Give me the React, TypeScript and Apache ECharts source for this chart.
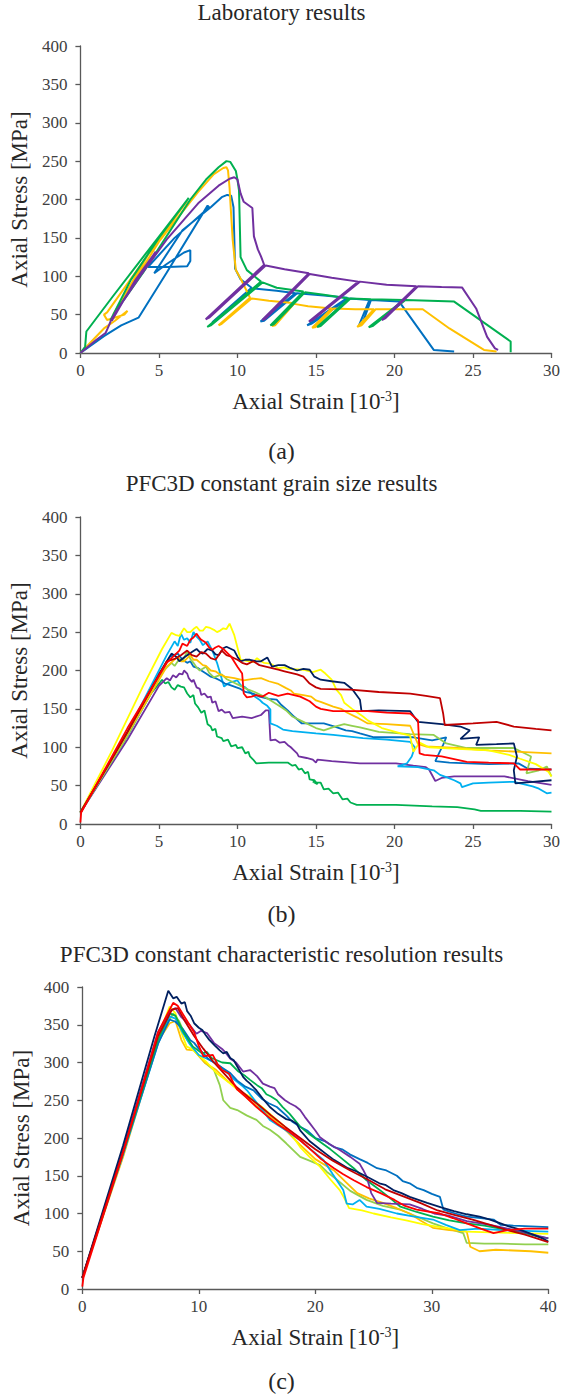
import React, { useEffect, useRef } from "react";
import * as echarts from "echarts";

const FONT = '"Liberation Serif", "Times New Roman", serif';
const AXIS_COLOR = "#595959";
const TEXT_COLOR = "#262626";

// ---------- Titles ----------
const panelTitles = [
  "Laboratory results",
  "PFC3D constant grain size results",
  "PFC3D constant characteristic resolution results",
];
const panelLabels = ["(a)", "(b)", "(c)"];

// ---------- Axes ----------
const yTicks = [0, 50, 100, 150, 200, 250, 300, 350, 400];
const xMaxA = 30;
const xMaxB = 30;
const xMaxC = 40;

// ---------- Colours ----------
const C_NAVY = "#002060";
const C_BLUE = "#0070C0";
const C_LBLUE = "#00B0F0";
const C_GREEN = "#00B050";
const C_LGREEN = "#92D050";
const C_YELLOW = "#FFFF00";
const C_ORANGE = "#FFC000";
const C_RED = "#FF0000";
const C_DRED = "#C00000";
const C_PURPLE = "#7030A0";

// ---------- (a) Laboratory results: [strain, stress] ----------
const labBlue = [
  [0, 0], [1.5, 22], [2.6, 36], [3.7, 46], [5.5, 105], [8.1, 192], [8.2, 190], [6.0, 150],
  [4.3, 112], [5.6, 112], [6.8, 113], [7.0, 120], [7.0, 134], [6.6, 131], [5.5, 116], [4.7, 104],
  [6.5, 160], [8.3, 190], [9.0, 203], [9.35, 206], [9.6, 205], [9.75, 190], [9.8, 150], [9.85, 110],
  [10.2, 96], [10.9, 85], [8.4, 40], [8.6, 42], [11.0, 84], [12.5, 81], [13.7, 78], [11.47, 41],
  [11.7, 42], [13.8, 78], [15.5, 75], [17.0, 72], [14.44, 36], [14.7, 38], [17.1, 71], [17.8, 70],
  [18.4, 69], [17.74, 36], [17.95, 38], [18.5, 69], [20.3, 67], [22.5, 4], [23.8, 2],
];
const labYellow = [
  [0, 0], [1.5, 32], [2.2, 42], [3.0, 55], [2.8, 50], [1.7, 43], [1.5, 50], [1.7, 53],
  [4.2, 125], [6.8, 198], [4.5, 135], [2.1, 50], [2.3, 56], [5.0, 145], [7.5, 210], [8.5, 233],
  [9.1, 241], [9.3, 242], [9.4, 238], [9.5, 215], [9.6, 180], [9.7, 147], [9.9, 108], [10.2, 97],
  [10.8, 72], [8.8, 36], [9.0, 38], [10.9, 71], [12.0, 68], [13.5, 65], [12.2, 35], [12.4, 36],
  [13.6, 64], [14.5, 61], [16.0, 58], [14.76, 33], [15.0, 34], [16.1, 58], [17.5, 57], [18.7, 57],
  [17.63, 34], [17.9, 36], [18.8, 57], [21.8, 57], [23.5, 32], [25.7, 4], [26.5, 2],
];
const labGreen = [
  [0, 0], [0.3, 8], [0.38, 28], [2.0, 72], [3.5, 112], [5.2, 157], [6.9, 202], [5.0, 150],
  [3.2, 95], [1.9, 42], [2.1, 50], [4.0, 105], [7.0, 200], [8.0, 226], [8.8, 242], [9.3, 250],
  [9.55, 249], [9.9, 237], [10.0, 226], [10.1, 212], [10.2, 125], [10.6, 108], [11.5, 93],
  [8.08, 34], [8.3, 36], [11.6, 92], [12.5, 85], [14.2, 80], [12.1, 36], [12.3, 37], [14.3, 79],
  [15.5, 76], [17.1, 71], [15.08, 34], [15.3, 35], [17.2, 71], [18.5, 70], [20.6, 69],
  [18.36, 33.5], [18.6, 35], [20.7, 69], [23.8, 67], [27.4, 15], [27.4, 1],
];
const labPurple = [
  [0, 0], [1.0, 17], [1.6, 26], [1.8, 35], [2.0, 45], [3.4, 90], [4.8, 132], [3.5, 95],
  [2.0, 42], [2.2, 52], [3.8, 100], [5.5, 148], [7.5, 195], [8.8, 218], [9.5, 227], [9.8, 229],
  [10.0, 226], [10.2, 208], [10.4, 197], [10.95, 189], [11.05, 152], [11.3, 135], [11.5, 126],
  [11.7, 115], [7.98, 44], [8.2, 46], [11.8, 114], [13.0, 109], [14.55, 104], [11.58, 43],
  [11.8, 45], [14.6, 103], [16.0, 98], [17.7, 93], [14.55, 41], [14.8, 43], [17.8, 93],
  [19.5, 89], [21.4, 87], [19.2, 43], [19.4, 45], [21.5, 87], [23.0, 86], [24.3, 85.5],
  [25.2, 58], [25.9, 21], [26.4, 6], [26.6, 4],
];

// ---------- (b) PFC3D constant grain size ----------
const bGreen = [
  [0, 15], [2.5, 100], [4.5, 170], [5.2, 188], [5.4, 183], [5.6, 185], [5.8, 178], [6.0, 175],
  [6.2, 181], [6.4, 179], [6.6, 178], [6.8, 170], [7.0, 165], [7.2, 168], [7.3, 157], [7.5, 152],
  [7.7, 145], [7.9, 148], [8.1, 130], [8.3, 127], [8.4, 122], [8.6, 124], [8.7, 114], [9.0, 112],
  [9.1, 108], [9.4, 110], [9.6, 101], [9.9, 103], [10.0, 99], [10.3, 100], [10.5, 92], [10.7, 94],
  [10.8, 88], [11.0, 84], [11.2, 79], [12.0, 80], [13.2, 80], [13.5, 76], [13.7, 77], [13.9, 71],
  [14.1, 72], [14.3, 66], [14.5, 68], [14.6, 58], [14.9, 57], [15.1, 52], [14.8, 55], [15.3, 54],
  [15.5, 45], [15.8, 46], [16.1, 40], [16.4, 41], [16.7, 32], [17.0, 33], [17.2, 28], [17.6, 25],
  [19.0, 25], [20.1, 25], [22.4, 23], [24.0, 22], [25.1, 19], [25.5, 17], [28.0, 17], [30, 16],
];
const bPurple = [
  [0, 15], [3, 110], [5.0, 180], [5.5, 190], [5.7, 187], [5.9, 194], [6.1, 191], [6.3, 196],
  [6.5, 195], [6.6, 200], [6.8, 196], [6.9, 190], [7.1, 185], [7.2, 188], [7.4, 178], [7.6, 176],
  [7.7, 168], [7.9, 170], [8.1, 165], [8.3, 166], [8.4, 158], [8.6, 160], [8.8, 147], [9.0, 149],
  [9.2, 145], [9.5, 146], [9.7, 138], [10.3, 140], [10.9, 138], [11.5, 142], [11.8, 148],
  [12.0, 148], [12.1, 109], [12.4, 110], [12.7, 106], [13.0, 107], [13.2, 103], [13.4, 100],
  [13.6, 96], [13.8, 92], [13.9, 88], [14.4, 86], [14.8, 84], [15.0, 80], [15.1, 84], [16.0, 82],
  [17.8, 79], [20.1, 79], [21.2, 76], [22.0, 74], [22.2, 71], [22.6, 56], [23.0, 60], [23.8, 62],
  [25.5, 62], [27.0, 62], [28.5, 56], [30, 51],
];
const bLightBlue = [
  [0, 15], [3, 120], [5.5, 220], [6.0, 238], [6.2, 232], [6.4, 248], [6.6, 240], [6.8, 242],
  [7.0, 236], [7.2, 250], [7.4, 244], [7.6, 240], [7.8, 233], [8.1, 238], [8.3, 230], [8.4, 226],
  [8.7, 210], [8.9, 196], [9.15, 179], [9.4, 183], [9.6, 185], [10.0, 187], [10.2, 181],
  [10.5, 178], [10.8, 172], [11.1, 166], [11.4, 162], [11.6, 158], [11.9, 154], [12.1, 149],
  [12.1, 131], [12.5, 128], [12.9, 123], [13.5, 121], [14.0, 120], [15.0, 118], [16.1, 116],
  [18.0, 112], [19.5, 110], [21.0, 107], [21.3, 100], [21.1, 88], [20.8, 79], [20.2, 75],
  [21.5, 74], [22.5, 70], [22.9, 64], [23.3, 61], [23.8, 57], [24.2, 53], [24.3, 48], [25.0, 53],
  [26.0, 54], [27.6, 55], [28.8, 49], [29.2, 46], [29.7, 40], [30, 41],
];
const bBlue = [
  [0, 15], [3, 115], [5.7, 218], [6.2, 222], [6.5, 214], [6.8, 210], [7.0, 212], [7.2, 205],
  [7.5, 203], [7.7, 200], [8.0, 196], [8.3, 192], [8.6, 190], [8.9, 187], [9.2, 183], [9.4, 182],
  [9.8, 179], [10.2, 176], [10.5, 172], [11.0, 170], [11.4, 166], [12.0, 163], [12.5, 162],
  [12.8, 155], [13.2, 148], [13.6, 140], [14.1, 131], [15.5, 131], [16.2, 127], [16.9, 122],
  [17.3, 121], [17.8, 118], [18.7, 113], [21.2, 113], [22.4, 109], [23.3, 113], [23.1, 103],
  [22.9, 95], [22.6, 82], [23.5, 80], [24.7, 79], [26.0, 78], [27.9, 79], [28.5, 72], [30, 71],
];
const bLightGreen = [
  [0, 15], [3, 115], [5.3, 200], [5.8, 210], [6.0, 206], [6.3, 215], [6.5, 212], [6.8, 225],
  [7.0, 215], [7.2, 210], [7.4, 204], [7.6, 200], [8.0, 205], [8.2, 197], [8.5, 191], [9.0, 195],
  [9.3, 189], [9.6, 186], [10.2, 180], [10.7, 175], [11.1, 172], [11.5, 168], [11.8, 165],
  [12.2, 160], [12.8, 152], [13.1, 148], [13.5, 140], [14.2, 133], [15.0, 125], [15.5, 122],
  [16.2, 127], [16.8, 130], [17.3, 128], [17.8, 126], [19.0, 120], [21.0, 117], [22.5, 116],
  [23.3, 105], [24.6, 99], [26.0, 99], [27.6, 99], [28.7, 88], [28.4, 66], [29.2, 70],
  [29.7, 75], [30, 62],
];
const bOrange = [
  [0, 15], [3, 118], [5.5, 205], [6.2, 218], [6.4, 212], [6.6, 212], [7.0, 220], [7.2, 214],
  [7.4, 214], [7.8, 207], [8.0, 206], [8.3, 200], [8.6, 199], [8.8, 196], [9.2, 192], [9.8, 190],
  [10.4, 187], [11.0, 189], [11.5, 190], [12.0, 186], [12.55, 183], [13.1, 177], [13.4, 174],
  [13.6, 170], [14.2, 168], [14.7, 166], [15.0, 161], [15.3, 159], [16.1, 153], [16.6, 150],
  [17.0, 145], [17.6, 139], [18.3, 131], [19.5, 130], [21.0, 128], [21.5, 104], [22.0, 101],
  [24.0, 99], [26.0, 96], [28.0, 94], [30, 92],
];
const bYellow = [
  [0, 15], [2, 95], [4, 180], [5.2, 228], [5.8, 249], [6.1, 246], [6.3, 245], [6.6, 255],
  [6.8, 250], [7.0, 250], [7.2, 254], [7.4, 257], [7.6, 252], [7.8, 252], [8.0, 257], [8.2, 256],
  [8.5, 253], [8.7, 250], [8.9, 252], [9.1, 255], [9.3, 254], [9.5, 261], [9.8, 246], [10.0, 230],
  [10.2, 214], [10.5, 213], [10.8, 212], [11.0, 211], [11.25, 216], [11.5, 212], [11.7, 210],
  [12.1, 209], [12.6, 203], [13.0, 204], [13.2, 202], [14.2, 201], [14.8, 198], [15.3, 201],
  [15.6, 196], [16.0, 188], [16.3, 175], [16.6, 168], [16.8, 158], [17.3, 150], [18.0, 140],
  [18.3, 135], [19.2, 125], [20.4, 118], [21.0, 115], [21.2, 94], [21.6, 106], [22.2, 100],
  [24.0, 98], [26.0, 96], [27.3, 90], [28.0, 85], [29.0, 78], [29.8, 68], [30, 62],
];
const bNavy = [
  [0, 15], [3, 120], [5.0, 195], [5.8, 222], [6.1, 218], [6.3, 212], [6.6, 217], [6.8, 220],
  [7.1, 224], [7.4, 228], [7.6, 224], [7.8, 222], [8.1, 228], [8.4, 226], [8.6, 221], [8.8, 220],
  [9.1, 229], [9.3, 231], [9.6, 228], [9.8, 226], [10.0, 218], [10.2, 212], [10.5, 214],
  [10.8, 214], [11.2, 212], [11.5, 212], [11.9, 217], [12.2, 205], [12.6, 207], [13.0, 207],
  [13.4, 203], [13.8, 200], [14.2, 202], [14.6, 201], [14.9, 192], [15.3, 188], [16.0, 186],
  [16.8, 184], [17.3, 176], [17.8, 162], [17.9, 147], [19.0, 148], [21.0, 147], [21.5, 133],
  [23.0, 130], [24.2, 127], [24.8, 122], [24.2, 111], [25.4, 113], [25.2, 103], [26.5, 104],
  [27.6, 105], [27.8, 88], [27.6, 70], [27.7, 53], [28.8, 55], [30, 57],
];
const bDarkRed = [
  [0, 15], [3, 120], [5.5, 212], [6.0, 215], [6.4, 220], [6.8, 226], [7.1, 220], [7.4, 218],
  [7.7, 224], [8.0, 222], [8.3, 216], [8.6, 214], [8.8, 220], [9.0, 226], [9.3, 220], [9.6, 218],
  [10.0, 214], [10.3, 210], [10.6, 208], [11.0, 212], [11.4, 207], [11.8, 205], [12.2, 203],
  [12.6, 201], [13.0, 199], [13.4, 197], [13.8, 195], [14.2, 192], [14.6, 183], [15.0, 178],
  [15.3, 176], [17.2, 175], [19.0, 172], [21.0, 170], [22.0, 167], [22.9, 164], [23.1, 144],
  [23.2, 129], [25.0, 131], [26.5, 133], [27.6, 127], [29.0, 124], [30, 122],
];
const bRed = [
  [0, 2], [0.05, 15], [3, 125], [5.5, 210], [6.0, 220], [6.3, 226], [6.5, 235], [6.8, 232],
  [7.0, 240], [7.2, 243], [7.4, 248], [7.6, 242], [7.7, 240], [8.0, 236], [8.2, 230], [8.4, 227],
  [8.6, 230], [8.8, 232], [9.1, 228], [9.4, 222], [9.6, 218], [10.0, 205], [10.3, 196],
  [10.4, 170], [10.6, 165], [10.9, 166], [11.2, 168], [11.6, 166], [12.0, 171], [12.3, 169],
  [12.6, 167], [13.2, 170], [13.6, 168], [14.0, 166], [14.6, 160], [15.0, 153], [15.3, 150],
  [16.1, 147], [18.3, 147], [19.5, 145], [21.0, 144], [21.5, 135], [21.6, 92], [21.9, 90],
  [23.0, 88], [24.6, 81], [26.0, 80], [27.6, 79], [28.0, 71], [30, 71],
];

// ---------- (c) PFC3D constant characteristic resolution ----------
const cNavy = [
  [0, 15], [3.5, 190], [6.2, 335], [7.38, 395], [7.8, 385], [8.1, 387], [8.5, 378], [8.8, 380],
  [9.0, 368], [9.3, 362], [9.6, 352], [10.0, 346], [10.3, 343], [10.6, 336], [10.9, 330],
  [11.4, 322], [11.8, 316], [12.1, 312], [12.4, 314], [12.7, 306], [13.0, 303], [13.4, 292],
  [13.8, 281], [14.1, 276], [14.4, 272], [14.95, 263], [15.5, 252], [16.1, 241], [16.8, 232],
  [17.5, 225], [18.0, 223], [18.4, 219], [18.7, 210], [19.5, 196], [20.4, 185], [21.0, 178],
  [21.6, 171], [22.8, 160], [23.5, 156], [24.4, 149], [25.5, 140], [26.0, 138], [26.7, 131],
  [27.4, 127], [28.1, 122], [29.6, 114], [30.8, 108], [31.9, 103], [33.0, 99], [34.1, 96],
  [35.0, 92], [35.9, 87], [36.6, 83], [37.3, 80], [38.7, 72], [39.5, 67], [40, 63],
];
const cPurple = [
  [0, 15], [3.5, 185], [6.5, 340], [7.5, 368], [8.0, 372], [8.5, 360], [9.2, 350], [9.8, 338],
  [10.2, 342], [10.7, 339], [11.3, 326], [12.0, 318], [12.3, 313], [12.7, 305], [13.2, 300],
  [13.5, 294], [13.8, 288], [14.4, 290], [15.0, 282], [15.5, 272], [16.1, 268], [16.5, 266],
  [16.8, 258], [17.4, 250], [17.8, 246], [18.3, 242], [18.7, 237], [19.1, 228], [19.5, 220],
  [20.0, 210], [20.4, 201], [21.2, 192], [22.1, 184], [23.0, 175], [23.8, 166], [24.1, 158],
  [24.4, 149], [24.8, 127], [25.3, 114], [26.5, 113], [28.1, 112], [29.2, 106], [30.2, 100],
  [31.5, 97], [33.0, 90], [35.0, 85], [36.5, 80], [38.0, 75], [39.2, 70], [40, 67],
];
const cBlue = [
  [0, 15], [3.5, 180], [6.5, 325], [7.5, 357], [8.0, 354], [8.6, 345], [9.25, 330], [9.6, 326],
  [10.0, 318], [10.4, 312], [10.8, 305], [11.5, 298], [12.1, 292], [12.7, 286], [13.3, 276],
  [14.0, 268], [14.7, 263], [15.4, 252], [16.0, 246], [16.7, 241], [17.5, 230], [18.0, 222],
  [18.7, 215], [19.3, 210], [20.0, 200], [20.8, 196], [21.6, 188], [22.3, 185], [23.0, 178],
  [23.8, 172], [24.5, 167], [25.3, 160], [26.1, 157], [27.0, 150], [27.5, 143], [28.1, 140],
  [28.7, 134], [29.3, 131], [30.0, 126], [30.7, 122], [31.0, 105], [32.0, 100], [33.0, 96],
  [34.2, 94], [35.3, 92], [35.9, 85], [37.0, 84], [38.5, 83], [40, 82],
];
const cGreen = [
  [0, 15], [3.5, 180], [6.5, 330], [7.5, 365], [8.0, 362], [8.7, 340], [9.5, 321], [10.3, 312],
  [10.7, 314], [11.1, 306], [12.0, 300], [12.7, 299], [13.4, 288], [14.0, 282], [14.4, 277],
  [15.0, 270], [15.4, 266], [15.8, 258], [16.2, 255], [16.7, 250], [17.2, 241], [17.8, 232],
  [18.7, 215], [19.5, 205], [20.4, 195], [21.3, 185], [22.1, 175], [23.3, 160], [24.4, 144],
  [25.1, 136], [25.8, 128], [26.6, 118], [27.3, 109], [28.7, 102], [30.1, 96], [31.5, 91],
  [33.0, 87], [34.5, 84], [35.9, 80], [37.5, 76], [39.0, 70], [40, 67],
];
const cLightBlue = [
  [0, 15], [3.5, 178], [6.5, 325], [7.5, 361], [8.0, 358], [8.6, 340], [9.2, 325], [10.0, 310],
  [10.7, 305], [11.5, 299], [12.2, 290], [13.0, 278], [13.8, 268], [14.2, 262], [14.6, 254],
  [15.3, 240], [16.1, 224], [16.7, 218], [17.5, 210], [18.7, 197], [19.6, 185], [20.7, 171],
  [21.5, 152], [22.4, 131], [22.7, 113], [23.2, 112], [23.8, 118], [24.4, 109], [25.5, 106],
  [27.0, 100], [28.5, 96], [30.1, 92], [31.2, 85], [32.4, 78], [34.0, 80], [36.0, 78],
  [38.0, 77], [40, 76],
];
const cYellow = [
  [0, 15], [3.5, 180], [6.5, 335], [7.5, 374], [8.0, 365], [8.5, 340], [8.96, 321], [9.4, 318],
  [9.8, 312], [10.7, 300], [11.6, 285], [12.2, 278], [12.7, 272], [13.5, 262], [14.4, 255],
  [15.0, 246], [15.5, 240], [16.1, 232], [16.7, 224], [17.3, 216], [17.8, 208], [18.7, 188],
  [19.5, 175], [20.4, 162], [21.3, 145], [22.1, 131], [22.5, 120], [22.9, 107], [24.0, 104],
  [25.0, 100], [26.5, 95], [27.8, 91], [29.2, 86], [30.7, 82], [32.0, 79], [33.0, 76],
  [35.0, 75], [37.5, 74], [40, 73],
];
const cOrange = [
  [0, 15], [3.5, 175], [6.5, 328], [7.5, 352], [8.0, 355], [8.5, 330], [8.96, 317], [9.6, 316],
  [10.5, 300], [11.5, 290], [12.5, 275], [13.0, 270], [13.5, 262], [14.5, 248], [15.5, 236],
  [16.5, 224], [17.6, 208], [18.7, 191], [20.0, 172], [21.6, 157], [22.6, 142], [23.6, 127],
  [24.6, 120], [25.8, 114], [27.0, 107], [28.1, 100], [29.1, 90], [30.1, 81], [31.5, 78],
  [33.0, 76], [33.3, 56], [34.1, 50], [35.5, 52], [37.0, 51], [38.5, 50], [40, 48],
];
const cLightGreen = [
  [0, 15], [3.5, 178], [6.5, 330], [7.8, 365], [8.3, 355], [9.0, 330], [9.8, 312], [10.5, 300],
  [11.3, 290], [11.8, 270], [12.1, 250], [12.7, 240], [13.3, 237], [14.1, 230], [14.95, 224],
  [15.5, 216], [16.1, 211], [16.8, 203], [17.5, 193], [18.7, 175], [19.5, 170], [20.4, 164],
  [21.0, 155], [21.6, 148], [23.0, 130], [24.4, 118], [25.8, 110], [27.3, 105], [28.7, 96],
  [30.1, 87], [31.4, 80], [32.7, 74], [33.0, 61], [34.5, 60], [36.0, 60], [38.0, 59], [40, 59],
];
const cDarkRed = [
  [0, 15], [3.5, 182], [6.5, 335], [7.7, 370], [8.2, 372], [8.8, 355], [9.6, 335], [10.4, 318],
  [11.3, 300], [12.2, 285], [13.2, 268], [14.2, 255], [15.2, 243], [16.2, 230], [17.4, 215],
  [18.7, 200], [20.0, 185], [21.5, 170], [23.0, 157], [24.5, 145], [26.0, 132], [27.5, 123],
  [29.0, 114], [30.5, 104], [32.0, 98], [33.5, 92], [35.0, 85], [36.5, 78], [38.0, 72],
  [39.2, 66], [40, 62],
];
const cRed = [
  [0, 3], [0.1, 15], [3.5, 180], [6.5, 340], [7.8, 379], [8.2, 375], [8.8, 360], [9.6, 340],
  [10.0, 322], [10.4, 308], [11.2, 310], [11.6, 298], [12.0, 290], [12.6, 285], [13.0, 272],
  [13.3, 264], [14.0, 255], [14.95, 241], [15.8, 230], [16.7, 219], [17.8, 208], [18.7, 197],
  [19.8, 182], [20.5, 172], [21.6, 160], [22.4, 152], [23.3, 144], [24.4, 135], [25.6, 127],
  [26.8, 118], [27.7, 110], [28.7, 105], [30.7, 100], [31.8, 94], [33.0, 87], [34.2, 80],
  [35.3, 74], [36.5, 78], [38.0, 80], [40, 80],
];

const seriesA: [number[][], string][] = [
  [labBlue, C_BLUE], [labYellow, C_ORANGE], [labGreen, C_GREEN], [labPurple, C_PURPLE],
];
const seriesB: [number[][], string][] = [
  [bGreen, C_GREEN], [bPurple, C_PURPLE], [bLightBlue, C_LBLUE], [bBlue, C_BLUE],
  [bLightGreen, C_LGREEN], [bOrange, C_ORANGE], [bYellow, C_YELLOW], [bNavy, C_NAVY],
  [bDarkRed, C_DRED], [bRed, C_RED],
];
const seriesC: [number[][], string][] = [
  [cLightGreen, C_LGREEN], [cOrange, C_ORANGE], [cYellow, C_YELLOW], [cLightBlue, C_LBLUE],
  [cBlue, C_BLUE], [cGreen, C_GREEN], [cPurple, C_PURPLE], [cNavy, C_NAVY],
  [cDarkRed, C_DRED], [cRed, C_RED],
];

const grids = [
  { left: 79.5, top: 46, width: 474, height: 307 },
  { left: 79.5, top: 517, width: 474, height: 307 },
  { left: 82.3, top: 987, width: 466, height: 302 },
];
const titleTops = [1, 472, 943];
const labelTops = [439, 902, 1369];

function xAxis(gi: number, max: number, interval: number) {
  return {
    gridIndex: gi,
    type: "value",
    min: 0,
    max,
    interval,
    name: "Axial Strain [10{sup|-3}]",
    nameLocation: "middle",
    nameGap: 36,
    nameTextStyle: {
      fontFamily: FONT,
      fontSize: 23,
      color: TEXT_COLOR,
      lineHeight: 25,
      rich: {
        sup: { fontFamily: FONT, fontSize: 14, lineHeight: 14, verticalAlign: "top", color: TEXT_COLOR },
      },
    },
    axisLine: { show: true, onZero: false, lineStyle: { color: AXIS_COLOR, width: 1.3 } },
    axisTick: { show: true, length: 5, lineStyle: { color: AXIS_COLOR, width: 1.3 } },
    axisLabel: { fontFamily: FONT, fontSize: 17, color: "#404040", margin: 9 },
    splitLine: { show: false },
  };
}

function yAxis(gi: number, gap: number) {
  return {
    gridIndex: gi,
    type: "value",
    min: yTicks[0],
    max: yTicks[yTicks.length - 1],
    interval: 50,
    name: "Axial Stress [MPa]",
    nameLocation: "middle",
    nameGap: gap,
    nameTextStyle: { fontFamily: FONT, fontSize: 23, color: TEXT_COLOR },
    axisLine: { show: true, onZero: false, lineStyle: { color: AXIS_COLOR, width: 1.3 } },
    axisTick: { show: true, length: 5, lineStyle: { color: AXIS_COLOR, width: 1.3 } },
    axisLabel: { fontFamily: FONT, fontSize: 17, color: "#404040", margin: 13 },
    splitLine: { show: false },
  };
}

function mkSeries(list: [number[][], string][], gi: number, width: number) {
  return list.map(([data, color]) => ({
    type: "line",
    xAxisIndex: gi,
    yAxisIndex: gi,
    data,
    showSymbol: false,
    symbol: "none",
    silent: true,
    lineStyle: { color, width },
    itemStyle: { color },
  }));
}

export default function App() {
  const ref = useRef<HTMLDivElement>(null);
  useEffect(() => {
    document.body.style.margin = "0";
    const chart = echarts.init(ref.current!, null, { renderer: "svg" });
    const titles: any[] = [];
    panelTitles.forEach((t, i) => {
      titles.push({
        text: t,
        left: "center",
        top: titleTops[i],
        padding: 0,
        textStyle: { fontFamily: FONT, fontSize: 23, fontWeight: "normal", color: TEXT_COLOR },
      });
    });
    panelLabels.forEach((t, i) => {
      titles.push({
        text: t,
        left: "center",
        top: labelTops[i],
        padding: 0,
        textStyle: { fontFamily: FONT, fontSize: 24, fontWeight: "normal", color: TEXT_COLOR },
      });
    });
    chart.setOption({
      animation: false,
      backgroundColor: "#ffffff",
      title: titles,
      grid: grids,
      xAxis: [xAxis(0, xMaxA, 5), xAxis(1, xMaxB, 5), xAxis(2, xMaxC, 10)],
      yAxis: [yAxis(0, 44), yAxis(1, 44), yAxis(2, 45)],
      series: [
        ...mkSeries(seriesA, 0, 2),
        ...mkSeries(seriesB, 1, 1.8),
        ...mkSeries(seriesC, 2, 1.8),
      ],
    });
    return () => chart.dispose();
  }, []);
  return (
    <div
      ref={ref}
      style={{ position: "absolute", left: 0, top: 0, width: 563, height: 1396, background: "#fff" }}
    />
  );
}
